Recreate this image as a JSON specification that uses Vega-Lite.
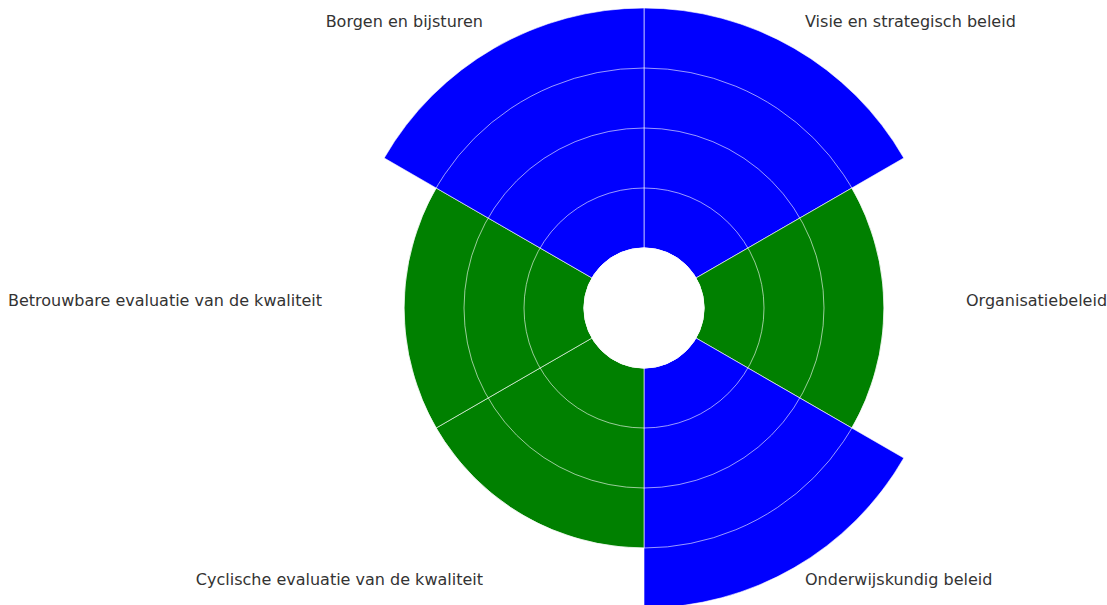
{
  "$schema": "https://vega.github.io/schema/vega-lite/v6.json",
  "width": 926,
  "height": 600,
  "autosize": {"type": "none"},
  "padding": {"left": 181, "top": 8, "right": 0, "bottom": 0},
  "background": "white",
  "config": {"view": {"stroke": null}},
  "datasets": {
    "scores": [
      {"idx": 1, "category": "Visie en strategisch beleid", "score": 4},
      {"idx": 2, "category": "Organisatiebeleid", "score": 3},
      {"idx": 3, "category": "Onderwijskundig beleid", "score": 4},
      {"idx": 4, "category": "Cyclische evaluatie van de kwaliteit", "score": 3},
      {"idx": 5, "category": "Betrouwbare evaluatie van de kwaliteit", "score": 3},
      {"idx": 6, "category": "Borgen en bijsturen", "score": 4}
    ],
    "grid": [{"level": 1}, {"level": 2}, {"level": 3}]
  },
  "layer": [
    {
      "data": {"name": "scores"},
      "transform": [
        {"aggregate": [{"op": "count", "as": "n"}], "groupby": ["idx", "category", "score"]},
        {"stack": "n", "groupby": [], "sort": [{"field": "idx", "order": "ascending"}], "as": ["t0", "t1"]}
      ],
      "mark": {"type": "arc", "radius2": 60, "stroke": "white", "strokeOpacity": 0.6, "strokeWidth": 1},
      "encoding": {
        "theta": {"field": "t0", "type": "quantitative", "scale": {"domain": [0, 6], "range": [0, 6.283185307179586]}},
        "theta2": {"field": "t1"},
        "radius": {"field": "score", "type": "quantitative", "stack": null, "scale": {"type": "linear", "zero": false, "nice": false, "domain": [0, 4], "range": [60, 300]}},
        "color": {"field": "score", "type": "nominal", "scale": {"domain": [4, 3], "range": ["#0000ff", "#008000"]}, "legend": null}
      }
    },
    {
      "data": {"name": "grid"},
      "mark": {"type": "arc", "theta": 0, "theta2": 6.283185307179586, "filled": false, "fill": "transparent", "stroke": "white", "strokeOpacity": 0.6, "strokeWidth": 1},
      "encoding": {
        "radius": {"field": "level", "type": "quantitative", "stack": null},
        "detail": {"field": "level", "type": "nominal"}
      }
    },
    {
      "data": {"name": "scores"},
      "mark": {"type": "text", "radius": 322, "dy": -7, "align": {"expr": "datum.idx <= 3 ? 'left' : 'right'"}, "baseline": "middle", "font": "DejaVu Sans", "fontSize": 16, "color": "#333333"},
      "encoding": {
        "theta": {"aggregate": "count", "type": "quantitative", "stack": true},
        "order": {"field": "idx", "type": "quantitative"},
        "detail": {"field": "idx", "type": "nominal"},
        "text": {"field": "category", "type": "nominal"}
      }
    }
  ]
}
